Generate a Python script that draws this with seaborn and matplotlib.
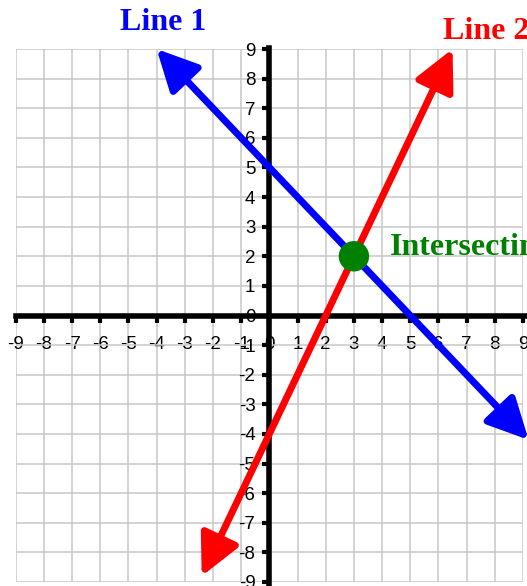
import numpy as np
import pandas as pd
import seaborn as sns
import matplotlib.pyplot as plt

# data
ticks = list(range(-9, 10))
line1_x = [-4.0, 9.2]
line1_y = [9.0, -4.2]
line2_x = [6.5, -2.4]
line2_y = [9.0, -8.8]
point_x = [3]
point_y = [2]
labels = ['Line 1', 'Line 2', 'Intersecting']

sns.set_theme(style='whitegrid')
plt.rcParams['font.family'] = ['Liberation Sans', 'DejaVu Sans']
plt.rcParams['axes.unicode_minus'] = False

fig = plt.figure(figsize=(5.27, 5.86), dpi=100)
ax = fig.add_axes([15.7/527, 4/586, (523-15.7)/527, (582-49)/586])
ax.set_xlim(-9, 9)
ax.set_ylim(-9, 9)
ax.set_xticks(ticks)
ax.set_yticks(ticks)
ax.grid(True, color='#c8c8c8', lw=1.1)
ax.set_facecolor('white')

for s in ['top', 'right']:
    ax.spines[s].set_visible(False)
ax.spines['left'].set_position(('data', 0))
ax.spines['bottom'].set_position(('data', 0))
for s in ['left', 'bottom']:
    ax.spines[s].set_color('black')
    ax.spines[s].set_linewidth(4)
    ax.spines[s].set_zorder(3)
ax.spines['bottom'].set_bounds(-9, 9.3)
ax.spines['left'].set_bounds(-9.3, 9.05)
ax.spines['bottom'].set_clip_on(False)
ax.spines['left'].set_clip_on(False)

ax.tick_params(axis='x', bottom=True, direction='out', length=5, width=3,
               color='black', pad=10, labelsize=13.5, labelcolor='black')
ax.tick_params(axis='y', left=True, direction='out', length=5, width=3,
               color='black', pad=5, labelsize=13.5, labelcolor='black')

# the two lines with arrow heads at both ends
for xs, ys, c in [(line1_x, line1_y, 'blue'), (line2_x, line2_y, 'red')]:
    ax.annotate('', xy=(xs[0], ys[0]), xytext=(xs[1], ys[1]),
                arrowprops=dict(arrowstyle='<|-|>,head_length=0.4,head_width=0.2',
                                mutation_scale=62, lw=5, color=c,
                                shrinkA=0, shrinkB=0),
                annotation_clip=False, zorder=4)

df = pd.DataFrame({'x': point_x, 'y': point_y})
sns.scatterplot(data=df, x='x', y='y', s=480, color='#008000', edgecolor='none',
                ax=ax, zorder=5, legend=False)
ax.set_xlabel('')
ax.set_ylabel('')

font = dict(family='Liberation Serif', weight='bold', size=23)
ax.text(-5.3, 9.64, labels[0], color='blue', ha='left', va='baseline', clip_on=False, **font)
ax.text(6.15, 9.33, labels[1], color='red', ha='left', va='baseline', clip_on=False, **font)
ax.text(4.28, 2.04, labels[2], color='#008000', ha='left', va='baseline', clip_on=False, **font)

fig.savefig('out.png', dpi=100)
